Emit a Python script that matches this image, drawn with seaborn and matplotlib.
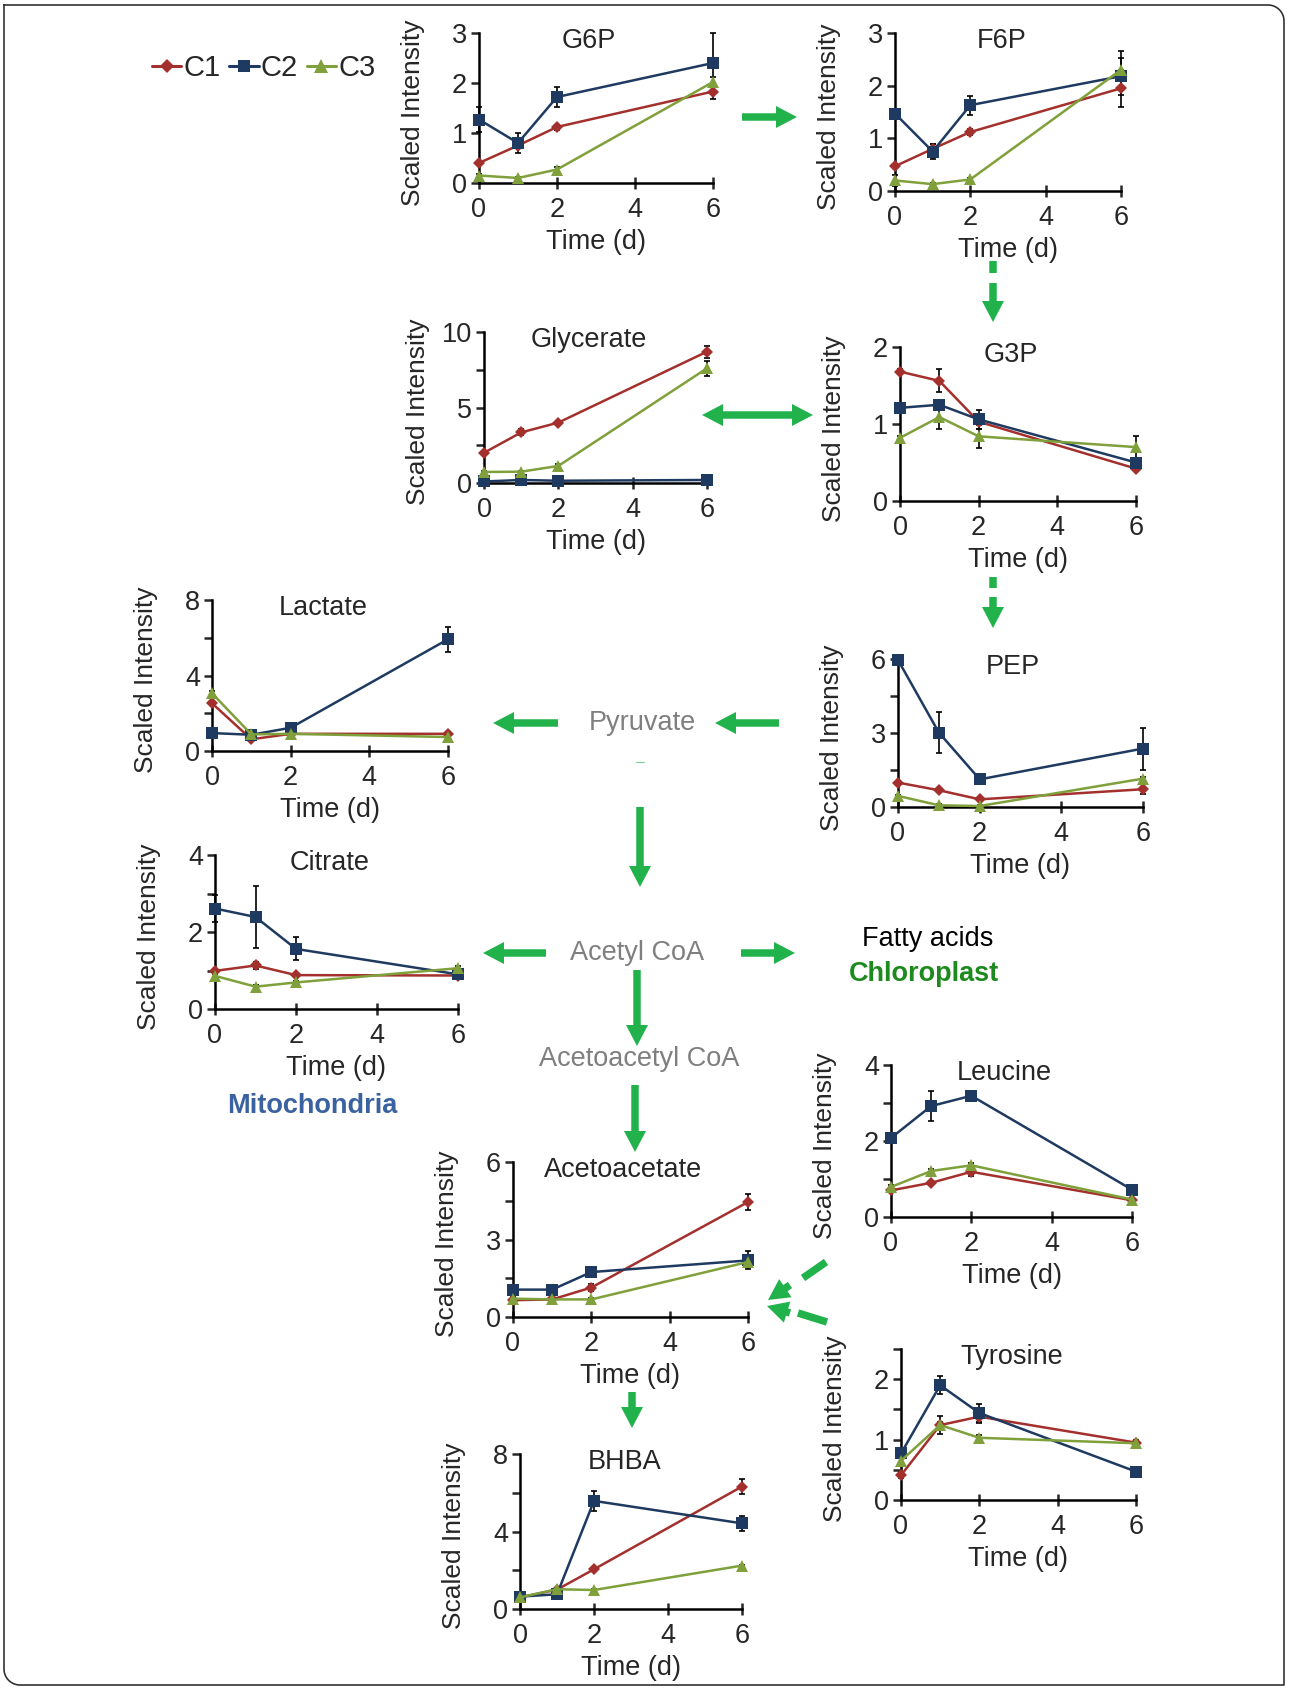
import numpy as np
import pandas as pd
import seaborn as sns
import matplotlib.pyplot as plt
from matplotlib.lines import Line2D
from matplotlib.patches import FancyArrow

# ---- data ----
times = [0, 1, 2, 6]
clusters = ["C1", "C2", "C3"]

g6p_mean = [[0.40, 0.75, 1.12, 1.83], [1.27, 0.80, 1.72, 2.40], [0.15, 0.10, 0.27, 2.02]]
g6p_sd = [[0.03, 0.05, 0.05, 0.15], [0.25, 0.20, 0.20, 0.60], [0.03, 0.03, 0.05, 0.10]]

f6p_mean = [[0.47, 0.80, 1.12, 1.95], [1.47, 0.75, 1.63, 2.18], [0.20, 0.13, 0.22, 2.30]]
f6p_sd = [[0.03, 0.10, 0.05, 0.35], [0.05, 0.15, 0.18, 0.35], [0.10, 0.03, 0.03, 0.35]]

glycerate_mean = [[2.0, 3.35, 4.0, 8.7], [0.10, 0.20, 0.15, 0.20], [0.73, 0.75, 1.13, 7.6]]
glycerate_sd = [[0.10, 0.20, 0.10, 0.40], [0.05, 0.05, 0.05, 0.05], [0.05, 0.05, 0.10, 0.50]]

g3p_mean = [[1.68, 1.56, 1.03, 0.42], [1.21, 1.25, 1.06, 0.50], [0.82, 1.09, 0.84, 0.70]]
g3p_sd = [[0.03, 0.15, 0.10, 0.03], [0.03, 0.05, 0.12, 0.05], [0.03, 0.15, 0.15, 0.15]]

lactate_mean = [[2.53, 0.62, 0.91, 0.91], [0.95, 0.86, 1.23, 5.92], [3.06, 0.88, 0.91, 0.74]]
lactate_sd = [[0.10, 0.10, 0.05, 0.10], [0.10, 0.10, 0.10, 0.65], [0.10, 0.10, 0.05, 0.05]]

pep_mean = [[0.99, 0.68, 0.31, 0.72], [5.96, 3.02, 1.12, 2.37], [0.45, 0.07, 0.04, 1.15]]
pep_sd = [[0.05, 0.05, 0.05, 0.20], [0.10, 0.85, 0.20, 0.85], [0.05, 0.05, 0.05, 0.05]]

citrate_mean = [[0.99, 1.13, 0.88, 0.87], [2.61, 2.39, 1.56, 0.90], [0.86, 0.58, 0.69, 1.06]]
citrate_sd = [[0.05, 0.08, 0.05, 0.05], [0.35, 0.80, 0.30, 0.05], [0.05, 0.05, 0.05, 0.05]]

leucine_mean = [[0.70, 0.90, 1.19, 0.44], [2.08, 2.92, 3.19, 0.72], [0.79, 1.21, 1.36, 0.46]]
leucine_sd = [[0.05, 0.05, 0.10, 0.05], [0.05, 0.40, 0.10, 0.05], [0.05, 0.05, 0.05, 0.05]]

acetoacetate_mean = [[0.65, 0.68, 1.14, 4.45], [1.06, 1.06, 1.74, 2.19], [0.71, 0.68, 0.68, 2.13]]
acetoacetate_sd = [[0.05, 0.05, 0.15, 0.30], [0.05, 0.15, 0.05, 0.35], [0.05, 0.05, 0.05, 0.10]]

bhba_mean = [[0.60, 1.00, 2.05, 6.32], [0.64, 0.76, 5.58, 4.42], [0.60, 1.02, 0.98, 2.24]]
bhba_sd = [[0.05, 0.05, 0.05, 0.40], [0.05, 0.05, 0.50, 0.40], [0.05, 0.05, 0.05, 0.05]]

tyrosine_mean = [[0.41, 1.24, 1.38, 0.95], [0.77, 1.90, 1.44, 0.47], [0.65, 1.24, 1.03, 0.94]]
tyrosine_sd = [[0.05, 0.15, 0.10, 0.05], [0.05, 0.15, 0.15, 0.03], [0.05, 0.05, 0.05, 0.03]]

# ---- style ----
W, H = 1290, 1691
palette = {"C1": "#A3302C", "C2": "#1F3A60", "C3": "#7FA03A"}
markers = {"C1": "D", "C2": "s", "C3": "^"}
msize = {"C1": 6, "C2": 8, "C3": 8.5}
GREEN = "#22B24C"
FS = 19.5

sns.set_style("ticks")
plt.rcParams["font.family"] = ["Liberation Sans", "DejaVu Sans"]

fig = plt.figure(figsize=(W / 100, H / 100), dpi=100)


def to_frame(mean):
    rows = [(c, t, v) for c, vals in zip(clusters, mean) for t, v in zip(times, vals)]
    return pd.DataFrame(rows, columns=["cluster", "time", "value"])


def panel(name, mean, sd, ymax, major, minor, box):
    x0, x6, ytop, y0 = box
    w, h = x6 - x0, y0 - ytop
    ax = fig.add_axes([x0 / W, 1 - y0 / H, w / W, h / H])
    sns.lineplot(data=to_frame(mean), x="time", y="value", hue="cluster", style="cluster",
                 palette=palette, markers=markers, dashes=False, linewidth=1.8,
                 markeredgewidth=0, legend=False, ax=ax, clip_on=False, zorder=3)
    for line, c in zip(ax.lines, clusters):
        line.set_markersize(msize[c])
    for vals, err in zip(mean, sd):
        ax.errorbar(times, vals, yerr=err, fmt="none", ecolor="black", elinewidth=1.2,
                    capsize=2.5, capthick=1.2, zorder=2, clip_on=False)
    ax.set_xlim(0, 6)
    ax.set_ylim(0, ymax)
    ax.set_xticks([0, 2, 4, 6])
    ticks = sorted(major + minor)
    ax.set_yticks(ticks)
    ax.set_yticklabels([f"{t:g}" if t in major else "" for t in ticks])
    sns.despine(ax=ax)
    for s in ("left", "bottom"):
        ax.spines[s].set_linewidth(1.8)
        ax.spines[s].set_color("black")
    ax.tick_params(axis="x", direction="inout", length=9, width=1.8, pad=5.5, labelsize=FS)
    ax.tick_params(axis="y", direction="out", length=5.5, width=1.8, pad=3, labelsize=FS)
    ax.set_xlabel("Time (d)", fontsize=FS)
    ax.set_ylabel("Scaled Intensity", fontsize=FS - 0.5)
    ax.xaxis.set_label_coords(0.5, -46 / h)
    ax.yaxis.set_label_coords(-54 / w, 0.47)
    ax.text(0.47, 1 - 15 / h, name, transform=ax.transAxes, ha="center", va="baseline",
            fontsize=FS)
    ax.patch.set_alpha(0)
    return ax


panels = [
    ("G6P", g6p_mean, g6p_sd, 3, [0, 1, 2, 3], [], (479, 713, 33, 183)),
    ("F6P", f6p_mean, f6p_sd, 3, [0, 1, 2, 3], [], (895, 1121, 33, 191)),
    ("Glycerate", glycerate_mean, glycerate_sd, 10, [0, 5, 10], [2.5, 7.5], (484, 707, 332, 483)),
    ("G3P", g3p_mean, g3p_sd, 2, [0, 1, 2], [], (900, 1136, 347, 501)),
    ("Lactate", lactate_mean, lactate_sd, 8, [0, 4, 8], [2, 6], (212, 448, 600, 751)),
    ("PEP", pep_mean, pep_sd, 6, [0, 3, 6], [1.5, 4.5], (898, 1143, 659, 807)),
    ("Citrate", citrate_mean, citrate_sd, 4, [0, 2, 4], [1, 3], (215, 458, 855, 1009)),
    ("Leucine", leucine_mean, leucine_sd, 4, [0, 2, 4], [1, 3], (891, 1132, 1065, 1217)),
    ("Acetoacetate", acetoacetate_mean, acetoacetate_sd, 6, [0, 3, 6], [1.5, 4.5], (513, 748, 1162, 1317)),
    ("BHBA", bhba_mean, bhba_sd, 8, [0, 4, 8], [2, 6], (520, 742, 1454, 1609)),
    ("Tyrosine", tyrosine_mean, tyrosine_sd, 2.5, [0, 1, 2], [0.5, 1.5, 2.5], (901, 1136, 1349, 1500)),
]
for p in panels:
    panel(*p)

# ---- overlay in pixel coordinates for arrows, labels and frame ----
ov = fig.add_axes([0, 0, 1, 1], zorder=-1)
ov.set_xlim(0, W)
ov.set_ylim(H, 0)
ov.axis("off")


def arrow(x0, y0, x1, y1, head=21):
    ov.add_patch(FancyArrow(x0, y0, x1 - x0, y1 - y0, width=7.5, head_width=22,
                            head_length=head, length_includes_head=True, color=GREEN, lw=0))


def dash(x0, y0, x1, y1):
    ov.plot([x0, x1], [y0, y1], color=GREEN, lw=5.4, solid_capstyle="butt")


arrow(742, 117, 797, 117)                      # G6P -> F6P
dash(993, 261, 993, 273)                       # F6P -> G3P
arrow(993, 283, 993, 322)
arrow(757, 415, 702, 415)                      # Glycerate <-> G3P
arrow(757, 415, 813, 415)
dash(993, 577, 993, 588)                       # G3P -> PEP
arrow(993, 597, 993, 628)
arrow(779, 723, 715, 723)                      # PEP -> Pyruvate
arrow(558, 723, 493, 723)                      # Pyruvate -> Lactate
arrow(640, 807, 640, 887)                      # Pyruvate -> Acetyl CoA
arrow(546, 953, 483, 953)                      # Acetyl CoA -> Citrate
arrow(741, 953, 795, 953)                      # Acetyl CoA -> Fatty acids
arrow(637, 970, 637, 1046)                     # Acetyl CoA -> Acetoacetyl CoA
arrow(635, 1085, 635, 1152)                    # Acetoacetyl CoA -> Acetoacetate
arrow(632, 1392, 632, 1428)                    # Acetoacetate -> BHBA
dash(826, 1262, 803, 1278)                     # Leucine -> Acetoacetate
arrow(790, 1285, 768, 1300)
dash(827, 1322, 798, 1313)                     # Tyrosine -> Acetoacetate
arrow(790, 1313, 767, 1306)
ov.plot([636, 644], [762, 762], color=GREEN, lw=0.8, alpha=0.6)

grey = "#7F7F7F"
ov.text(642, 723, "Pyruvate", color=grey, fontsize=FS, ha="center", va="center")
ov.text(637, 953, "Acetyl CoA", color=grey, fontsize=FS, ha="center", va="center")
ov.text(639, 1059, "Acetoacetyl CoA", color=grey, fontsize=FS, ha="center", va="center")
ov.text(928, 939, "Fatty acids", color="black", fontsize=FS, ha="center", va="center")
ov.text(924, 974, "Chloroplast", color="#1C8A1C", fontsize=FS, fontweight="bold",
        ha="center", va="center")
ov.text(312, 1106, "Mitochondria", color="#3A62A0", fontsize=FS, fontweight="bold",
        ha="center", va="center")

handles = [Line2D([0], [0], color=palette[c], marker=markers[c], markersize=msize[c] + 1,
                  markeredgewidth=0, lw=2.2) for c in clusters]
ov.legend(handles, clusters, loc="center left", bbox_to_anchor=(152, 68),
          bbox_transform=ov.transData, ncol=3, frameon=False, fontsize=21,
          handlelength=1.0, handletextpad=0.08, columnspacing=0.3, borderpad=0,
          borderaxespad=0)

# frame: square top-left and bottom-right corners, rounded top-right and bottom-left
r = 16
left, right, top, bottom = 4, W - 6, 5, H - 6
a1 = np.linspace(-np.pi / 2, 0, 20)
a2 = np.linspace(np.pi / 2, np.pi, 20)
fx = np.concatenate([[left], right - r + r * np.cos(a1), [right], left + r + r * np.cos(a2), [left]])
fy = np.concatenate([[top], top + r + r * np.sin(a1), [bottom], bottom - r + r * np.sin(a2), [top]])
ov.plot(fx, fy, color="#333333", lw=1.2)

fig.savefig("out.png", dpi=100)
